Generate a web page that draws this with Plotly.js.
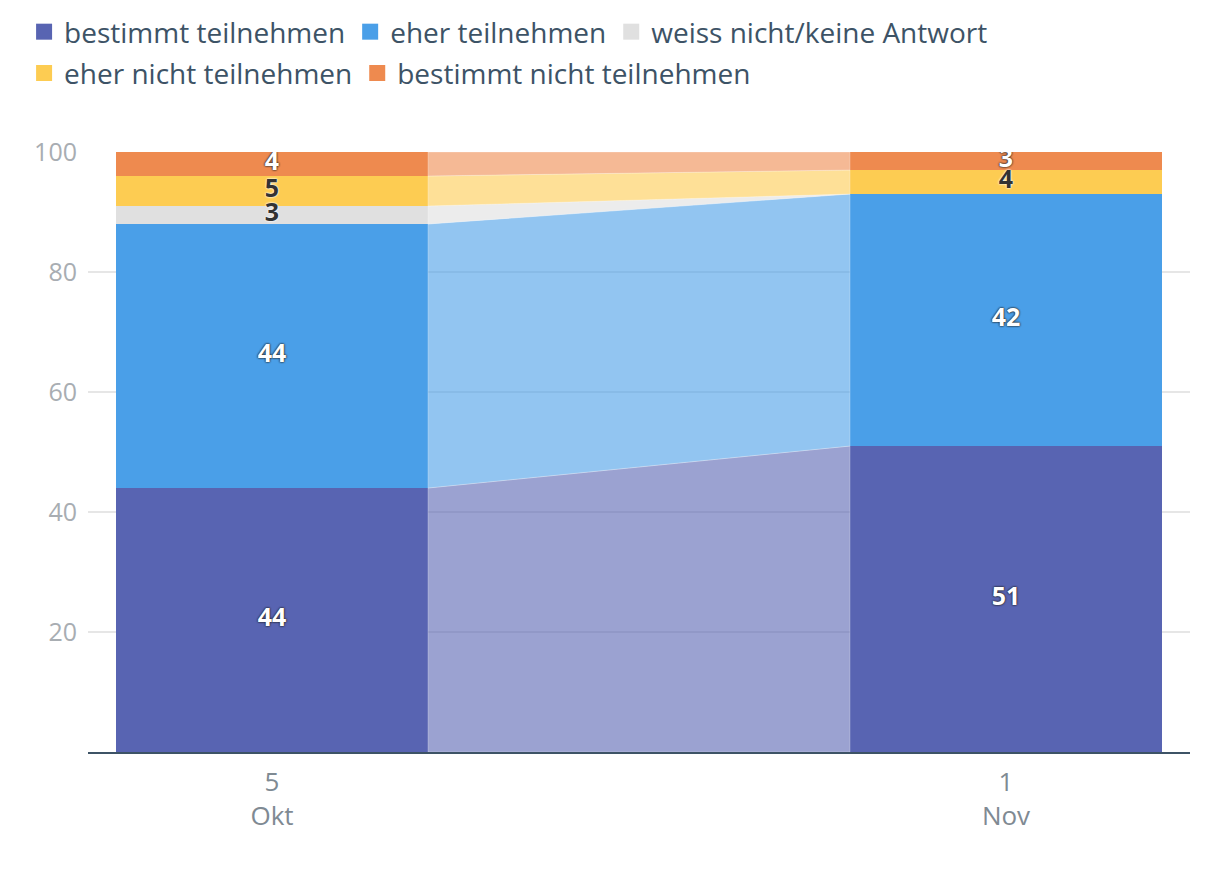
<!DOCTYPE html>
<html><head><meta charset="utf-8">
<script src="https://cdn.plot.ly/plotly-3.0.1.min.js"></script>
<style>html,body{margin:0;padding:0;background:#fff}#chart{width:1220px;height:896px}</style>
</head><body><div id="chart"></div>
<script>
const dates = ["5<br>Okt", "1<br>Nov"];
const seriesNames = ["bestimmt teilnehmen", "eher teilnehmen", "weiss nicht/keine Antwort", "eher nicht teilnehmen", "bestimmt nicht teilnehmen"];
const bestimmtTeilnehmen = [44, 51];
const eherTeilnehmen = [44, 42];
const weissNicht = [3, 0];
const eherNichtTeilnehmen = [5, 4];
const bestimmtNichtTeilnehmen = [4, 3];
const colors = ["#5864b2", "#4a9fe8", "#e0e0e0", "#fdcc52", "#ee8a4f"];
const lightColors = ["rgba(88,100,178,0.6)", "rgba(74,159,232,0.6)", "rgba(224,224,224,0.6)", "rgba(253,204,82,0.6)", "rgba(238,138,79,0.6)"];
const labelDark = [false, false, true, true, false];
const legendRow = ["legend", "legend", "legend", "legend2", "legend2"];

const series = [bestimmtTeilnehmen, eherTeilnehmen, weissNicht, eherNichtTeilnehmen, bestimmtNichtTeilnehmen];
const xs = [0, 1];
const W = 0.425;
const traces = [];
const base = [0, 0];
const labelX = [], labelY = [], labelT = [], labelDk = [];
series.forEach((vals, i) => {
  const lower = base.slice();
  const upper = vals.map((v, j) => lower[j] + v);
  traces.push({
    type: "scatter", mode: "lines", showlegend: false, hoverinfo: "skip",
    x: [xs[0] + W / 2, xs[1] - W / 2, xs[1] - W / 2, xs[0] + W / 2, xs[0] + W / 2],
    y: [lower[0], lower[1], upper[1], upper[0], lower[0]],
    fill: "toself", fillcolor: lightColors[i], line: {width: 0.5, color: "rgba(255,255,255,0.5)"}
  });
  traces.push({
    type: "bar", name: seriesNames[i], x: xs, y: vals, width: W, showlegend: false,
    marker: {color: colors[i], line: {width: 0}}, hoverinfo: "skip"
  });
  vals.forEach((v, j) => {
    if (v > 0) { labelX.push(xs[j]); labelY.push(lower[j] + v / 2); labelT.push(String(v)); labelDk.push(labelDark[i]); }
  });
  base[0] = upper[0]; base[1] = upper[1];
});
seriesNames.forEach((n, i) => {
  traces.push({
    type: "scatter", mode: "markers", name: n, x: [null], y: [null], legend: legendRow[i],
    marker: {symbol: "square", size: 22, color: colors[i]}, hoverinfo: "skip"
  });
});
const fontFam = "'Open Sans', 'Noto Sans', sans-serif";
[true, false].forEach(dark => {
  const idx = labelT.map((t, k) => k).filter(k => labelDk[k] === dark);
  traces.push({
    type: "scatter", mode: "text", showlegend: false, hoverinfo: "skip",
    x: idx.map(k => labelX[k]), y: idx.map(k => labelY[k]), text: idx.map(k => labelT[k]),
    textposition: "middle center",
    textfont: {family: fontFam, size: 25, weight: 700, color: dark ? "#333333" : "#ffffff",
      shadow: dark ? "0px 0px 2px #ffffff, 0px 0px 2px #ffffff" : "0px 0px 2px #222222, 0px 0px 2px #222222"}
  });
});

const legendCommon = {
  orientation: "h", xanchor: "left", yanchor: "top", xref: "paper", yref: "paper",
  font: {size: 28, color: "#3d5366", family: fontFam}, traceorder: "normal",
  itemwidth: 30, itemsizing: "trace", bgcolor: "rgba(0,0,0,0)"
};
const layout = {
  width: 1220, height: 896,
  margin: {l: 88, r: 30, t: 152, b: 144, autoexpand: false},
  paper_bgcolor: "#fff", plot_bgcolor: "#fff",
  barmode: "stack",
  font: {family: fontFam},
  xaxis: {
    range: [-0.2507, 1.2507], tickvals: xs, ticktext: dates, showgrid: false, zeroline: false,
    showline: true, linecolor: "#3d5366", linewidth: 2, ticks: "", ticklabelstandoff: 6,
    tickfont: {size: 26, color: "#7f8a93"}, fixedrange: true, automargin: false
  },
  yaxis: {
    range: [0, 100], tickvals: [20, 40, 60, 80, 100], showgrid: true, gridcolor: "#e6e6e6", gridwidth: 1.5,
    zeroline: false, showline: false, ticks: "", ticklabelstandoff: 10,
    tickfont: {size: 25, color: "#a8adb2"}, fixedrange: true, automargin: false
  },
  legend: Object.assign({}, legendCommon, {x: -0.058, y: 1.2417}),
  legend2: Object.assign({}, legendCommon, {x: -0.058, y: 1.173}),
  showlegend: true
};
Plotly.newPlot("chart", traces, layout, {displayModeBar: false, staticPlot: true});
</script></body></html>
